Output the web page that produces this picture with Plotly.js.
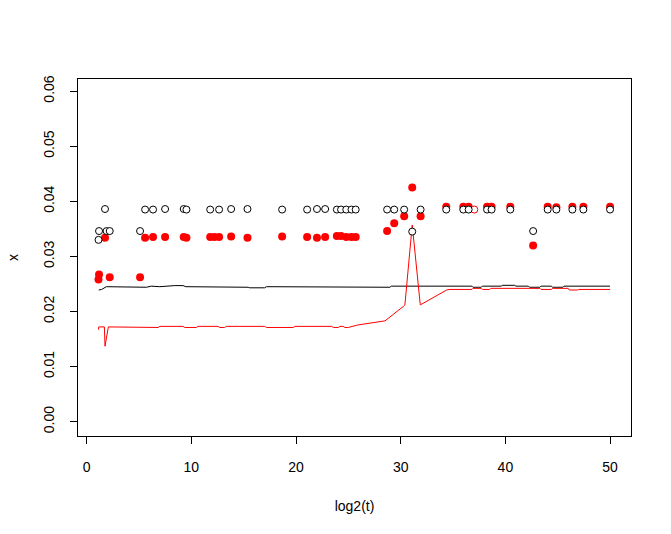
<!DOCTYPE html>
<html>
<head>
<meta charset="utf-8">
<script src="https://cdn.plot.ly/plotly-3.0.1.min.js"></script>
<style>html,body{margin:0;padding:0;background:#fff;}#chart{width:671px;height:534px;}</style>
</head>
<body>
<div id="chart"></div>
<script>
// x positions of the plotted points (log2(t))
const ptX = [1.13, 1.18, 1.75, 1.90, 2.20, 5.10, 5.58, 6.34, 7.49, 9.27, 9.53, 11.8, 12.2, 12.65, 13.8, 15.36, 18.67, 21.06, 22.0, 22.78, 23.9, 24.3, 24.8, 25.3, 25.7, 28.7, 29.38, 30.33, 31.1, 31.9, 34.35, 35.98, 36.49, 38.25, 38.68, 40.47, 42.65, 44.04, 44.87, 46.4, 47.45, 50.0];
// open (black) points
const blackPts = [0.0330, 0.0346, 0.0386, 0.0346, 0.0346, 0.0346, 0.0385, 0.0385, 0.0386, 0.0386, 0.0385, 0.0385, null, 0.0385, 0.0386, 0.0386, 0.0385, 0.0385, 0.0386, 0.0386, 0.0385, 0.0385, 0.0385, 0.0385, 0.0385, 0.0385, 0.0385, 0.0385, 0.0345, 0.0385, 0.0385, 0.0385, 0.0385, 0.0385, 0.0385, 0.0385, 0.0346, 0.0385, 0.0385, 0.0385, 0.0385, 0.0385];
// filled (red) points
const redPts = [0.0258, 0.0267, 0.0334, null, 0.0262, 0.0262, 0.0334, 0.0335, 0.0335, 0.0335, 0.0334, 0.0335, 0.0335, 0.0335, 0.0336, 0.0334, 0.0336, 0.0335, 0.0334, 0.0335, 0.0337, 0.0337, 0.0335, 0.0335, 0.0335, 0.0346, 0.0360, 0.0373, 0.0425, 0.0373, 0.0390, 0.0390, 0.0390, 0.0390, 0.0390, 0.0390, 0.0320, 0.0390, 0.0389, 0.0390, 0.0390, 0.0390];
// lone red open point
const redOpenX = [37.03];
const redOpenY = [0.0385];

// black line
const blackLineX = [1.15, 1.43, 1.88, 5.39, 5.7, 6.18, 6.82, 6.98, 8.41, 9.21, 9.47, 12.24, 12.4, 15.42, 15.58, 17.0, 17.18, 22.27, 22.44, 24.5, 24.67, 27.2, 27.4, 28.97, 29.1, 36.8, 36.9, 37.7, 37.8, 39.6, 39.7, 40.9, 41.0, 42.2, 42.3, 43.3, 43.4, 44.4, 44.5, 45.5, 45.6, 50.0];
const blackLineY = [0.0239, 0.0240, 0.0245, 0.0245, 0.0244, 0.0246, 0.0246, 0.0245, 0.0247, 0.0247, 0.0245, 0.0245, 0.0244, 0.0244, 0.0243, 0.0243, 0.0245, 0.0245, 0.0244, 0.0244, 0.0245, 0.0245, 0.0244, 0.0244, 0.0246, 0.0246, 0.0244, 0.0244, 0.0246, 0.0246, 0.02475, 0.02475, 0.0246, 0.0246, 0.0244, 0.0244, 0.0246, 0.0246, 0.0244, 0.0244, 0.0246, 0.0246];

// red line
const redLineX = [1.13, 1.15, 1.69, 1.75, 2.07, 5.86, 5.95, 6.82, 6.98, 9.21, 9.37, 10.48, 10.64, 12.55, 12.7, 13.18, 13.34, 17.0, 17.18, 19.73, 19.9, 23.4, 23.56, 24.04, 24.2, 24.5, 24.67, 24.99, 25.9, 27.05, 28.5, 30.24, 30.4, 31.1, 31.87, 34.39, 34.7, 36.8, 36.9, 37.7, 37.8, 38.5, 38.6, 43.3, 43.4, 44.4, 44.5, 46.0, 46.1, 46.9, 47.0, 50.0];
const redLineY = [0.0167, 0.0172, 0.0172, 0.0137, 0.0172, 0.0172, 0.0171, 0.0171, 0.0173, 0.0173, 0.0171, 0.0171, 0.0173, 0.0173, 0.0171, 0.0171, 0.0173, 0.0173, 0.0171, 0.0171, 0.0173, 0.0173, 0.0171, 0.0171, 0.0173, 0.0173, 0.0171, 0.0171, 0.01755, 0.01785, 0.0183, 0.0209, 0.0212, 0.0357, 0.0212, 0.0239, 0.0240, 0.0240, 0.0242, 0.0242, 0.0240, 0.0240, 0.0242, 0.0242, 0.0240, 0.0240, 0.0242, 0.0242, 0.0239, 0.0239, 0.0240, 0.0240];

const xTicks = [0, 10, 20, 30, 40, 50];
const yTicks = [0.00, 0.01, 0.02, 0.03, 0.04, 0.05, 0.06];
const yTickText = ['0.00', '0.01', '0.02', '0.03', '0.04', '0.05', '0.06'];

const FONT = 'Liberation Sans, Arial, sans-serif';

const traces = [
  {x: blackLineX, y: blackLineY, mode: 'lines', line: {color: 'black', width: 1}, hoverinfo: 'skip'},
  {x: redLineX, y: redLineY, mode: 'lines', line: {color: 'red', width: 1}, hoverinfo: 'skip'},
  {x: ptX, y: redPts, mode: 'markers', marker: {symbol: 'circle', color: 'red', size: 8, line: {width: 0}}},
  {x: redOpenX, y: redOpenY, mode: 'markers', marker: {symbol: 'circle', color: 'white', size: 7, line: {color: 'red', width: 1}}},
  {x: ptX, y: blackPts, mode: 'markers', marker: {symbol: 'circle', color: 'white', size: 7, line: {color: 'black', width: 1}}}
];

const layout = {
  width: 671, height: 534,
  margin: {l: 78, r: 40, t: 79, b: 98, pad: 0},
  paper_bgcolor: 'white', plot_bgcolor: 'white',
  showlegend: false,
  font: {family: FONT, size: 14, color: 'black'},
  xaxis: {
    range: [-0.83, 52.0], showgrid: false, zeroline: false,
    showline: true, mirror: true, linecolor: 'black', linewidth: 1,
    ticks: 'outside', ticklen: 7, tickwidth: 1, tickcolor: 'black',
    tickmode: 'array', tickvals: xTicks, ticktext: xTicks.map(String),
    ticklabelstandoff: 11,
    title: {text: 'log2(t)', font: {family: FONT, size: 14}, standoff: 27},
    automargin: false
  },
  yaxis: {
    range: [-0.0026, 0.0622], showgrid: false, zeroline: false,
    showline: true, mirror: true, linecolor: 'black', linewidth: 1,
    ticks: 'outside', ticklen: 7, tickwidth: 1, tickcolor: 'black',
    tickmode: 'array', tickvals: yTicks, ticktext: yTickText,
    tickangle: -90, ticklabelstandoff: 10,
    title: {text: 'x', font: {family: FONT, size: 14}, standoff: 19},
    automargin: false
  }
};

Plotly.newPlot('chart', traces, layout, {staticPlot: true, displayModeBar: false});
</script>
</body>
</html>
